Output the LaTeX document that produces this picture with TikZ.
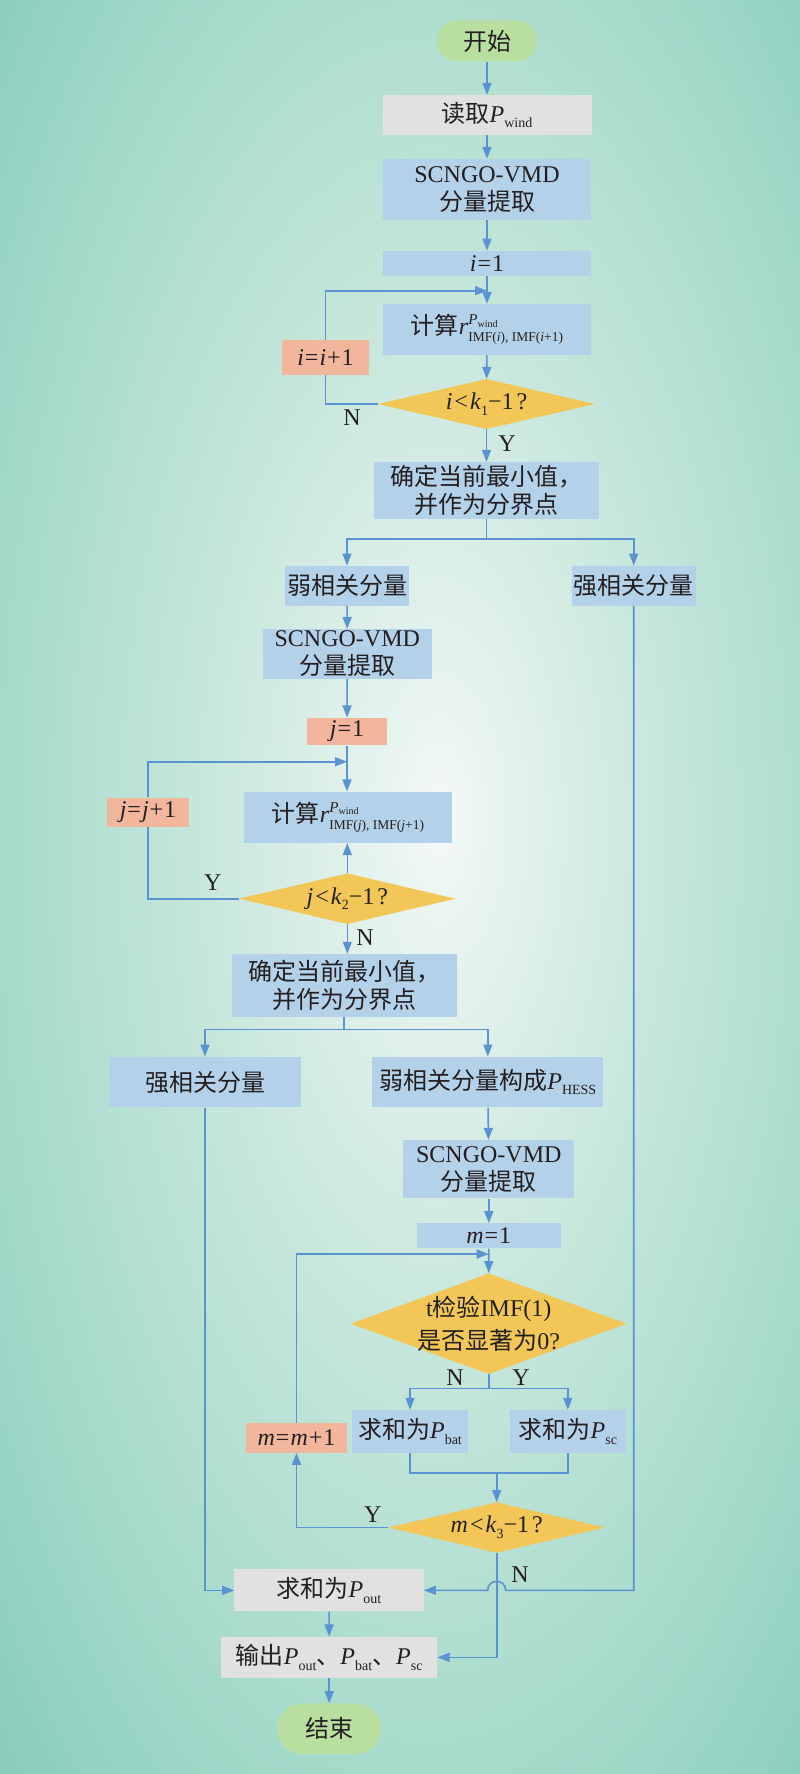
\documentclass[tikz,border=0pt]{standalone}
\usepackage{fontspec}
\setmainfont{Liberation Serif}
\newfontfamily\cjk{Noto Sans CJK SC}
\usetikzlibrary{shapes.geometric,arrows.meta,calc}
\definecolor{bgA}{HTML}{F4F9F7}
\definecolor{bgB}{HTML}{E6F3EE}
\definecolor{bgC}{HTML}{C5E6DB}
\definecolor{bgD}{HTML}{A2D9C9}
\definecolor{bgE}{HTML}{84CCB9}
\definecolor{bgF}{HTML}{80CAB6}
\definecolor{boxblue}{HTML}{B3D1E8}
\definecolor{boxgray}{HTML}{E1E1E1}
\definecolor{boxsal}{HTML}{F1B69C}
\definecolor{decyel}{HTML}{F2C757}
\definecolor{termgreen}{HTML}{B8DFA0}
\definecolor{lineblue}{HTML}{5A92D2}
\definecolor{txt}{HTML}{231F20}
\pgfdeclareradialshading{bgshade}{\pgfpoint{2.5bp}{2bp}}{color(0bp)=(bgA); color(4bp)=(bgB); color(15bp)=(bgC); color(28bp)=(bgD); color(38bp)=(bgE); color(80bp)=(bgF)}
\newcommand\zh[1]{{\cjk #1}}
\newcommand\sbs[1]{\raisebox{-0.24em}{\fontsize{14}{14}\selectfont #1}}
\newcommand\rterm[1]{\textit{r}\rlap{\raisebox{0.42em}{\fontsize{15}{15}\selectfont\textit{P}\raisebox{-0.15em}{\fontsize{10}{10}\selectfont wind}}}\raisebox{-0.28em}{\fontsize{13.5}{14}\selectfont IMF(\textit{#1}), IMF(\textit{#1}+1)}}
\tikzset{
  nbase/.style={inner sep=0pt, text=txt, font=\fontsize{24}{28}\selectfont, align=center},
  nblue/.style={nbase, rectangle, fill=boxblue},
  ngray/.style={nbase, rectangle, fill=boxgray},
  nsal/.style={nbase, rectangle, fill=boxsal},
  nterm/.style={nbase, rectangle, rounded corners=20pt, fill=termgreen},
  ndec/.style={nbase, diamond, fill=decyel},
  nlab/.style={nbase},
  cline/.style={draw=lineblue, line width=1.6pt},
  carrow/.style={cline, -{Triangle[length=12pt,width=9pt]}},
}
\begin{document}
\begin{tikzpicture}[x=1pt,y=-1pt]
\shade[shading=bgshade] (0,0) rectangle (800,1774);
\useasboundingbox (0,0) rectangle (800,1774);
% nodes
\node[nterm, minimum width=100, minimum height=41] (start) at (487,41) {\zh{开始}};
\node[ngray, minimum width=209, minimum height=40] (read) at (487,115) {\zh{读取}\textit{P}\sbs{wind}};
\node[nblue, minimum width=208, minimum height=61] (scngo1) at (487,189.5) {SCNGO-VMD\\\zh{分量提取}};
\node[nblue, minimum width=208, minimum height=25.5] (i1) at (487,263.5) {\textit{i}\kern1pt=\kern1pt1};
\node[nblue, minimum width=208, minimum height=51] (comp1) at (487,329.5) {\zh{计算}\rterm{i}};
\node[nsal, minimum width=86.7, minimum height=34.7] (iinc) at (325.5,357.3) {\textit{i}\kern1pt=\kern1pt\textit{i}\kern1pt+\kern1pt1};
\node[ndec, minimum width=217, minimum height=50, aspect=4.34] (dia1) at (486.5,404) {\textit{i}\kern2pt<\kern2pt\textit{k}\sbs{1}−1\kern3pt?};
\node[nblue, minimum width=225, minimum height=57] (det1) at (486.5,490.5) {\zh{确定当前最小值，}\\\zh{并作为分界点}};
\node[nblue, minimum width=124, minimum height=40] (weak1) at (347,585.7) {\zh{弱相关分量}};
\node[nblue, minimum width=124, minimum height=40] (strong1) at (633.7,585.7) {\zh{强相关分量}};
\node[nblue, minimum width=169.3, minimum height=49.7] (scngo2) at (347.3,654) {SCNGO-VMD\\\zh{分量提取}};
\node[nsal, minimum width=80.7, minimum height=27.7] (j1) at (347,731.5) {\textit{j}\kern1pt=\kern1pt1};
\node[nblue, minimum width=208.3, minimum height=51.3] (comp2) at (348,817.3) {\zh{计算}\rterm{j}};
\node[nsal, minimum width=81.7, minimum height=29.3] (jinc) at (148,812.3) {\textit{j}\kern1pt=\kern1pt\textit{j}\kern1pt+\kern1pt1};
\node[ndec, minimum width=216.4, minimum height=50.7, aspect=4.27] (dia2) at (347.3,898.7) {\textit{j}\kern2pt<\kern2pt\textit{k}\sbs{2}−1\kern3pt?};
\node[nblue, minimum width=225, minimum height=62.7] (det2) at (344.2,985.3) {\zh{确定当前最小值，}\\\zh{并作为分界点}};
\node[nblue, minimum width=192.3, minimum height=50.6] (strong2) at (205,1082) {\zh{强相关分量}};
\node[nblue, minimum width=231, minimum height=50.6] (weak2) at (487.8,1082) {\zh{弱相关分量构成}\textit{P}\sbs{HESS}};
\node[nblue, minimum width=171, minimum height=58.3] (scngo3) at (488.8,1169.2) {SCNGO-VMD\\\zh{分量提取}};
\node[nblue, minimum width=144.6, minimum height=25] (m1) at (488.8,1235.8) {\textit{m}\kern1pt=\kern1pt1};
\node[ndec, minimum width=276, minimum height=100.7, aspect=2.74,
      label={[nbase]center:t\zh{检验}IMF(1)\\[5pt]\zh{是否显著为}0?}] (dia3) at (488.7,1323.7) {};
\node[nblue, minimum width=116.6, minimum height=42.7] (pbat) at (410,1431.3) {\zh{求和为}\textit{P}\sbs{bat}};
\node[nblue, minimum width=115.7, minimum height=42.7] (psc) at (567.8,1431.3) {\zh{求和为}\textit{P}\sbs{sc}};
\node[nsal, minimum width=101.6, minimum height=29.4] (minc) at (296.5,1438) {\textit{m}\kern1pt=\kern1pt\textit{m}\kern1pt+\kern1pt1};
\node[ndec, minimum width=216.7, minimum height=50.4, aspect=4.3] (dia4) at (496.7,1527.5) {\textit{m}\kern2pt<\kern2pt\textit{k}\sbs{3}−1\kern3pt?};
\node[ngray, minimum width=189.4, minimum height=42] (pout) at (329,1590.3) {\zh{求和为}\textit{P}\sbs{out}};
\node[ngray, minimum width=216.3, minimum height=41.3] (out) at (329.2,1657.3) {\zh{输出}\textit{P}\sbs{out}\zh{、}\textit{P}\sbs{bat}\zh{、}\textit{P}\sbs{sc}};
\node[nterm, rounded corners=25pt, minimum width=103.7, minimum height=50.7] (end) at (329.2,1728.7) {\zh{结束}};
% labels
\node[nlab] (n1) at (352,418) {N};
\node[nlab] (y1) at (507,444) {Y};
\node[nlab] (y2) at (212.7,883) {Y};
\node[nlab] (n2) at (365,938) {N};
\node[nlab] (n3) at (455,1378) {N};
\node[nlab] (y3) at (521,1378) {Y};
\node[nlab] (y4) at (372.7,1515) {Y};
\node[nlab] (n4) at (520,1575) {N};
% connectors
\draw[carrow] (start) -- (read);
\draw[carrow] (read) -- (scngo1);
\draw[carrow] (scngo1) -- (i1);
\draw[carrow] (i1) -- (comp1);
\draw[carrow] (comp1) -- (dia1);
\draw[cline] (dia1.west) -| (iinc.south);
\coordinate (lp1) at (comp1.north |- 0,290.7);
\draw[carrow] (iinc.north) |- (lp1);
\draw[carrow] (dia1) -- (det1);
\coordinate (br1) at (det1.south |- 0,539);
\draw[cline] (det1.south) -- (br1);
\draw[carrow] (br1) -| (weak1.north);
\draw[carrow] (br1) -| (strong1.north);
\draw[carrow] (weak1) -- (scngo2);
\draw[carrow] (scngo2) -- (j1);
\draw[carrow] (j1.south) -- (j1.south |- comp2.north);
\draw[cline] (dia2.west) -| (jinc.south);
\coordinate (lp2) at (j1.south |- 0,761.7);
\draw[carrow] (jinc.north) |- (lp2);
\draw[carrow] (dia2.north) -- (dia2.north |- comp2.south);
\draw[carrow] (dia2.south) -- (dia2.south |- det2.north);
\coordinate (br2) at (det2.south |- 0,1029.5);
\draw[cline] (det2.south) -- (br2);
\draw[carrow] (br2) -| (strong2.north);
\draw[carrow] (br2) -| (weak2.north);
\draw[carrow] (weak2) -- (scngo3);
\draw[carrow] (scngo3) -- (m1);
\draw[carrow] (m1.south) -- (dia3.north);
\coordinate (br3) at (dia3.south |- 0,1388.3);
\draw[cline] (dia3.south) -- (br3);
\draw[carrow] (br3) -| (pbat.north);
\draw[carrow] (br3) -| (psc.north);
\coordinate (mg) at (dia4.north |- 0,1472.7);
\draw[cline] (pbat.south) |- (mg) -| (psc.south);
\draw[carrow] (mg) -- (dia4.north);
\draw[carrow] (dia4.west) -| (minc.south);
\coordinate (lp3) at (dia3.north |- 0,1254);
\draw[carrow] (minc.north) |- (lp3);
\draw[carrow] (dia4.south) |- (out.east);
\draw[carrow] (strong2.south) |- (pout.west);
\coordinate (jc) at (dia4.south |- pout.east);
\coordinate (jr) at ($(jc)+(9,0)$);
\coordinate (jl) at ($(jc)+(-9,0)$);
\draw[carrow] (strong1.south) |- (jr) .. controls ($(jr)+(0,-12)$) and ($(jl)+(0,-12)$) .. (jl) -- (pout.east);
\draw[carrow] (pout) -- (out);
\draw[carrow] (out) -- (end);
\end{tikzpicture}
\end{document}
